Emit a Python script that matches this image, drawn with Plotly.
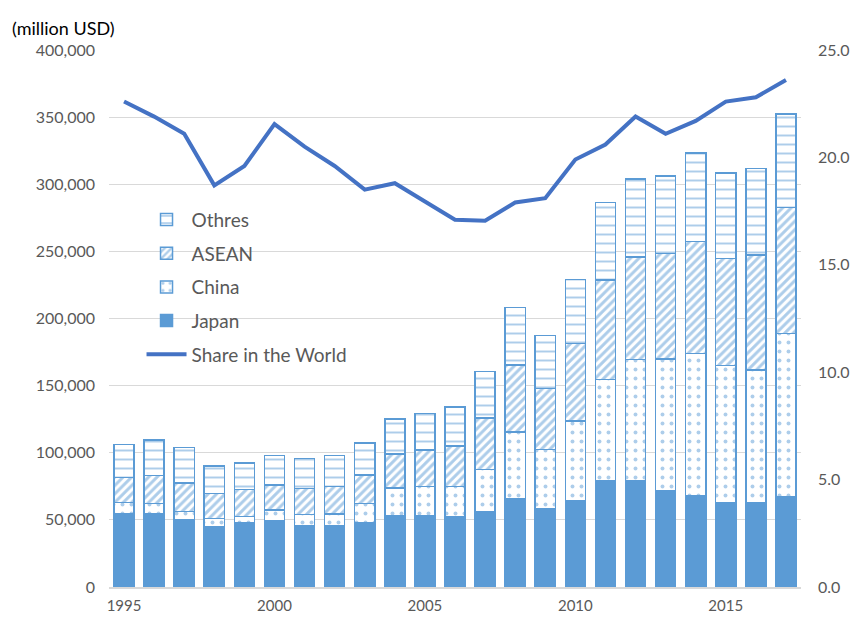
import plotly.graph_objects as go

years = list(range(1995, 2018))

# cumulative tops, converted to segment values below
japan = [54700, 54700, 50200, 44700, 47700, 49200, 45700, 45700, 48000, 53400, 53400, 52200,
         55900, 66100, 58100, 63900, 78800, 78800, 72000, 68300, 62900, 62600, 67400]
china_top = [63100, 62100, 56200, 51000, 52700, 57400, 53900, 54200, 62100, 73800, 75000, 75000,
             87500, 115300, 102600, 123500, 154500, 169400, 169900, 173900, 165000, 161500, 189000]
asean_top = [81700, 83000, 77300, 69600, 72800, 76000, 73500, 75000, 83500, 99100, 101900, 105100,
             125900, 165200, 147800, 181400, 228500, 245900, 248400, 257400, 244700, 247200, 282700]
total = [106300, 109500, 104100, 90200, 92400, 98100, 95900, 97900, 107300, 125000, 129400, 134100,
         160700, 208200, 187300, 229000, 286400, 304000, 306000, 323400, 308500, 311800, 352200]
share = [22.6, 21.9, 21.1, 18.7, 19.6, 21.55, 20.5, 19.6, 18.5, 18.8, 17.95, 17.1,
         17.05, 17.9, 18.1, 19.9, 20.6, 21.9, 21.1, 21.7, 22.6, 22.8, 23.6]

china = [c - j for c, j in zip(china_top, japan)]
asean = [a - c for a, c in zip(asean_top, china_top)]
others = [t - a for t, a in zip(total, asean_top)]

BLUE = "#5b9bd5"
LINE = "#4472c4"
GREY = "#595959"
FONT = "Lato, 'Open Sans', sans-serif"

fig = go.Figure()


def add_bar(name, vals, shape, size, solidity, rank):
    pat = dict(shape=shape, fgcolor=BLUE, bgcolor="white", size=size, solidity=solidity) if shape else None
    fig.add_trace(go.Bar(
        x=years, y=vals, name=name, legendrank=rank, legendgroup=name,
        marker=dict(color=BLUE if not shape else "white", pattern=pat,
                    line=dict(color=BLUE, width=1.5)),
    ))


add_bar("Japan", japan, None, 8, 0.2, 4)
add_bar("China", china, ".", 9, 0.15, 3)
add_bar("ASEAN", asean, "/", 6, 0.5, 2)
add_bar("Othres", others, "-", 9, 0.22, 1)

fig.add_trace(go.Scatter(
    x=years, y=share, name="Share in the World", yaxis="y2", mode="lines",
    line=dict(color=LINE, width=4), legendrank=5, legendgroup="share",
))

fig.add_annotation(text="(million USD)", xref="paper", yref="paper", x=-0.143, y=1.041,
                   xanchor="left", yanchor="middle", showarrow=False,
                   font=dict(size=18, color="#000000", family=FONT))

fig.update_layout(
    width=854, height=619,
    margin=dict(l=109, r=53, t=50, b=32, autoexpand=False),
    paper_bgcolor="white", plot_bgcolor="white",
    barmode="stack", bargap=0.33,
    font=dict(family=FONT, size=15, color=GREY),
    xaxis=dict(range=[1994.5, 2017.5], tickmode="array", tickvals=[1995, 2000, 2005, 2010, 2015],
               showgrid=False, showline=True, linecolor="#d9d9d9", linewidth=1.5,
               ticks="", zeroline=False, tickfont=dict(size=15), automargin=False,
               ticklabelstandoff=4),
    yaxis=dict(range=[0, 400000], dtick=50000, tickformat=",", showgrid=True,
               gridcolor="#d9d9d9", gridwidth=1, zeroline=False, ticks="",
               ticklabelstandoff=13, tickfont=dict(size=16), automargin=False),
    yaxis2=dict(range=[0, 25], dtick=5, tickformat=".1f", overlaying="y", side="right",
                showgrid=False, zeroline=False, ticks="", ticklabelstandoff=16,
                tickfont=dict(size=16), automargin=False),
    legend=dict(x=0.047, y=0.7195, xanchor="left", yanchor="top", traceorder="grouped",
                bgcolor="rgba(255,255,255,0)", font=dict(size=19, color=GREY),
                tracegroupgap=6, itemwidth=40),
)

# drop the browser's default 8px body margin so the figure fills the window
fig.write_html("out.html", config={"displayModeBar": False},
               post_script="document.body.style.margin='0';")
